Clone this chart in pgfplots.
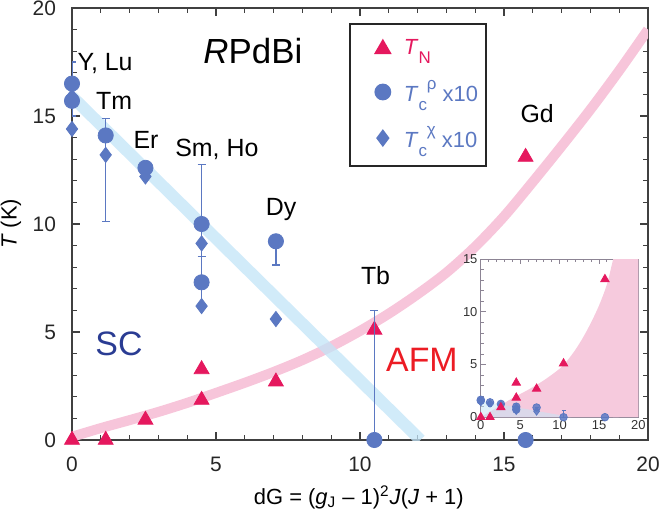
\documentclass[border=0pt]{standalone}
\usepackage{fontspec}
\setmainfont{Liberation Sans}
\usepackage{pgfplots}
\pgfplotsset{compat=1.18}
\definecolor{tri}{HTML}{E5185E}
\definecolor{cir}{HTML}{5B78C2}
\definecolor{pinkline}{HTML}{F7C5DA}
\definecolor{blueline}{HTML}{C2E4F7}
\definecolor{scblue}{HTML}{2A3C93}
\definecolor{afmred}{HTML}{EC1C24}
\definecolor{pinkfill}{HTML}{F6CADD}
\definecolor{bluefill}{HTML}{C6E4F6}
\definecolor{insetframe}{HTML}{8C8494}
\newcommand{\lsub}[1]{\raisebox{-4.5bp}{\fontsize{8.5}{9}\selectfont #1}}
\newcommand{\lsup}[1]{\raisebox{6bp}{\fontsize{8.5}{9}\selectfont #1}}
\begin{document}
\begin{tikzpicture}
\useasboundingbox (-36bp,-39bp) rectangle (294bp,220bp);
\begin{axis}[
  at={(0,0)}, anchor=south west,
  scale only axis, width=288bp, height=216bp,
  xmin=0, xmax=20, ymin=0, ymax=20,
  xtick={0,5,...,20}, ytick={0,5,...,20},
  minor x tick num=4, minor y tick num=4,
  tick align=inside, major tick length=4bp, minor tick length=2.5bp,
  axis line style={draw=black!75, line width=0.9pt},
  every tick/.style={black!75, line width=0.6pt},
  tick label style={font=\fontsize{10.5}{12}\selectfont, text=black!85},
  /pgf/number format/assume math mode=true,
  xticklabel style={yshift=-5bp},
  yticklabel style={xshift=-4.5bp},
  xlabel={dG = (\textit{g}\textsubscript{J} – 1)\textsuperscript{2}\textit{J}(\textit{J} + 1)},
  ylabel={\textit{T} (K)},
  every axis x label/.style={at={(axis description cs:0.498,0)}, anchor=center, yshift=-28.5bp, font=\fontsize{11}{12}\selectfont},
  every axis y label/.style={at={(axis description cs:-0.106,0.5)}, anchor=center, rotate=90, font=\fontsize{11}{12}\selectfont},
  clip mode=individual,
  legend image code/.code={\path[draw=none, fill=none] (0bp,-1bp) rectangle (23bp,1bp);
    \draw[#1] plot[only marks] coordinates {(14.5bp,0bp)};},
  legend style={at={(axis cs:9.62,19.3)}, anchor=north west, draw=black!85, line width=0.8pt,
    font=\fontsize{11}{12}\selectfont, inner xsep=2bp, inner ysep=6bp, row sep=7bp,
    cells={anchor=west}},
]
% guide curves
\addplot[pinkline, line width=5bp, smooth, forget plot] coordinates {
 (0,0.15) (1,0.55) (2,0.92) (3,1.3) (4,1.72) (5,2.18) (6,2.65) (7,3.15) (8,3.7) (9,4.33)
 (10,5.05) (11,5.85) (12,6.75) (13,7.75) (14,8.95) (15,10.35) (16,11.95) (17,13.6) (18,15.3) (19,17.1) (20,19.0)};
\addplot[blueline, opacity=0.75, line width=6bp, forget plot] coordinates {(0,15.9) (12.1,0)};
% T_N
\addplot[only marks, mark=triangle*, mark size=4.3bp, color=tri] coordinates {
 (0,0) (1.17,0) (2.55,0.93) (4.5,1.85) (4.5,3.27) (7.08,2.7) (10.5,5.1) (15.75,13.1)};
\addlegendentry{\textcolor{tri}{\textit{T}\lsub{N}}}
% Tc rho x10
\addplot[only marks, mark=*, mark size=3.8bp, color=cir,
  error bars/.cd, y dir=both, y explicit, error mark options={rotate=90, cir, mark size=2bp, line width=0.6pt},
  error bar style={cir, line width=0.6pt}] coordinates {
 (0,16.5) += (0,1.0) -= (0,0)
 (0,15.7) += (0,0) -= (0,0.7)
 (1.17,14.1) += (0,0.8) -= (0,4.0)
 (2.55,12.6) += (0,0.3) -= (0,0.3)
 (4.5,10.0) += (0,2.75) -= (0,2.75)
 (4.5,7.3) += (0,1.2) -= (0,1.2)
 (7.08,9.2) += (0,0) -= (0,1.1)
 (10.5,0) += (0,6.0) -= (0,0)
 (15.75,0) += (0,0) -= (0,0)};
\addlegendentry{\textcolor{cir}{\textit{T}\lsub{c}\lsup{ρ} x10}}
% Tc chi x10
\addplot[only marks, mark=diamond*, mark size=3.8bp, color=cir] coordinates {
 (0,15.9) (0,14.4) (1.17,13.2) (2.55,12.2) (4.5,9.1) (4.5,6.2) (7.08,5.6)};
\addlegendentry{\textcolor{cir}{\textit{T}\lsub{c}\lsup{χ} x10}}
% labels
\node[font=\fontsize{12.5}{14}\selectfont] at (axis cs:1.15,17.45) {Y, Lu};
\node[font=\fontsize{12.5}{14}\selectfont] at (axis cs:1.46,15.7) {Tm};
\node[font=\fontsize{12.5}{14}\selectfont] at (axis cs:2.57,13.9) {Er};
\node[font=\fontsize{12.5}{14}\selectfont] at (axis cs:5.03,13.45) {Sm, Ho};
\node[font=\fontsize{12.5}{14}\selectfont] at (axis cs:7.26,10.65) {Dy};
\node[font=\fontsize{12.5}{14}\selectfont] at (axis cs:10.54,7.6) {Tb};
\node[font=\fontsize{12.5}{14}\selectfont] at (axis cs:16.15,15.1) {Gd};
\node[font=\fontsize{17.5}{19}\selectfont] at (axis cs:6.28,18.0) {\textit{R}PdBi};
\node[font=\fontsize{17}{19}\selectfont, text=scblue] at (axis cs:1.63,4.47) {SC};
\node[font=\fontsize{17}{19}\selectfont, text=afmred] at (axis cs:12.15,3.7) {AFM};
\end{axis}
% inset
\begin{axis}[
  at={(204.4bp,11.4bp)}, anchor=south west,
  scale only axis, width=78.8bp, height=79bp,
  xmin=0, xmax=20, ymin=0, ymax=15,
  xtick={0,5,...,20}, ytick={0,5,10,15},
  minor x tick num=4, minor y tick num=4,
  tick align=inside, major tick length=2.5bp, minor tick length=1.5bp,
  axis line style={draw=insetframe, line width=0.5pt},
  every tick/.style={insetframe, line width=0.4pt},
  tick label style={font=\fontsize{6.5}{7}\selectfont, text=black!80},
  /pgf/number format/assume math mode=true,
  xticklabel style={inner sep=1.5bp},
  yticklabel style={inner sep=1.5bp},
  clip mode=individual,
]
\addplot[draw=none, fill=pinkfill, smooth] coordinates {
 (0,0) (2,0.9) (4,1.8) (6,2.6) (8,3.5) (10,4.6) (11,5.4) (12,6.4) (13,7.6) (14,9.0) (15,10.6) (16,12.6) (16.8,15) (17.5,17)} \closedcycle;
\addplot[draw=none, fill=pinkfill] coordinates {(16.8,0) (16.8,15) (20,15) (20,0)} \closedcycle;
\addplot[draw=none, fill=bluefill, fill opacity=0.55] coordinates {(0,1.55) (11.5,0)} \closedcycle;
\addplot[only marks, mark=*, mark size=1.9bp, color=cir, fill opacity=0.85,
  error bars/.cd, y dir=both, y explicit, error mark options={rotate=90, cir, mark size=1bp, line width=0.4pt},
  error bar style={cir, line width=0.4pt}] coordinates {
 (0,1.65) += (0,0) -= (0,0)
 (0,1.57) += (0,0) -= (0,0)
 (1.17,1.41) += (0,0.08) -= (0,0.4)
 (2.55,1.26) += (0,0) -= (0,0)
 (4.5,1.0) += (0,0.27) -= (0,0.27)
 (4.5,0.73) += (0,0) -= (0,0)
 (7.08,0.92) += (0,0) -= (0,0)
 (10.5,0) += (0,0.6) -= (0,0)
 (15.75,0) += (0,0) -= (0,0)};
\addplot[only marks, mark=diamond*, mark size=1.9bp, color=cir, fill opacity=0.85] coordinates {
 (0,1.59) (0,1.44) (1.17,1.32) (2.55,1.22) (4.5,0.91) (4.5,0.62) (7.08,0.56)};
\addplot[only marks, mark=triangle*, mark size=2.4bp, color=tri] coordinates {
 (0,0) (1.17,0) (2.55,0.93) (4.5,1.85) (4.5,3.27) (7.08,2.7) (10.5,5.1) (15.75,13.1)};
\end{axis}
\end{tikzpicture}
\end{document}
